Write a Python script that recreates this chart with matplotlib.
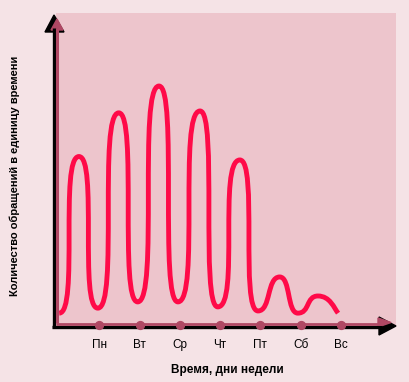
import matplotlib
matplotlib.use('Agg')
import matplotlib.pyplot as plt
from matplotlib.path import Path
from matplotlib.patches import PathPatch, Polygon

plt.rcParams['font.family'] = ['Liberation Sans', 'DejaVu Sans']

# дни недели (позиции делений 1..7)
days = ['Пн', 'Вт', 'Ср', 'Чт', 'Пт', 'Сб', 'Вс']
day_pos = [1, 2, 3, 4, 5, 6, 7]

# экстремумы кривой: время (в днях) и количество обращений
curve_x = [0.0, 0.49, 0.96, 1.48, 1.95, 2.48, 2.95, 3.50, 3.94, 4.49, 4.94, 5.48, 5.93, 6.43, 6.93]
curve_y = [3.8, 54.0, 5.4, 68.0, 7.4, 76.6, 7.4, 68.6, 5.8, 52.9, 4.5, 15.4, 3.8, 9.3, 3.8]

bg = '#F5E3E6'
panel = '#EDC5CC'
maroon = '#B04864'
red = '#FF0A48'

W, H = 409, 382
fig = plt.figure(figsize=(W / 100, H / 100), dpi=100, facecolor=bg)

# панель графика
ax = fig.add_axes([56 / W, (H - 325) / H, 340 / W, 312 / H])
ax.set_facecolor(panel)
ax.set_xlim(-0.08, 8.37)
ax.set_ylim(0, 100)
for s in ax.spines.values():
    s.set_visible(False)
ax.set_xticks([])
ax.set_yticks([])

# кривая: кубические сегменты между экстремумами
verts = [(curve_x[0], curve_y[0])]
codes = [Path.MOVETO]
n = len(curve_x)
for i in range(1, n):
    x0, y0 = curve_x[i - 1], curve_y[i - 1]
    x1, y1 = curve_x[i], curve_y[i]
    k = 1.0 if abs(y1 - y0) > 30 else 0.6
    c1 = (x0 + k * (x1 - x0), y0)
    c2 = (x1 - k * (x1 - x0), y1) if i < n - 1 else (x1 - 0.2 * (x1 - x0), y1 + 0.3 * (y0 - y1))
    verts += [c1, c2, (x1, y1)]
    codes += [Path.CURVE4] * 3
ax.add_patch(PathPatch(Path(verts, codes), facecolor='none', edgecolor=red,
                       lw=3.5, capstyle='butt', joinstyle='round', zorder=3))

# оверлей в пиксельных координатах для осей со стрелками
ov = fig.add_axes([0, 0, 1, 1], facecolor='none')
ov.set_xlim(0, W)
ov.set_ylim(H, 0)
ov.axis('off')

# вертикальная ось
ov.plot([53.5, 53.5], [328, 28], color='black', lw=2.4, solid_capstyle='butt')
ov.plot([56.5, 56.5], [323, 28], color=maroon, lw=2.2, solid_capstyle='butt')
ov.add_patch(Polygon([(45, 32), (64, 32), (54, 15)], closed=True, color='black'))
ov.add_patch(Polygon([(51, 30), (63, 30), (57, 19)], closed=True, color=maroon))

# горизонтальная ось
ov.plot([52, 382], [326.5, 326.5], color='black', lw=2.4, solid_capstyle='butt')
ov.plot([56, 382], [323.8, 323.8], color=maroon, lw=2.0, solid_capstyle='butt')
ov.add_patch(Polygon([(379, 317), (379, 335), (396, 326)], closed=True, color='black'))
ov.add_patch(Polygon([(378, 318), (378, 327), (391, 322.5)], closed=True, color=maroon))

# деления поверх осей
ov.scatter(day_pos, [0] * len(day_pos), s=32, color=maroon, zorder=5, clip_on=False,
           transform=ax.transData)
for p, d in zip(day_pos, days):
    ax.annotate(d, xy=(p, 0), xytext=(0, -20), textcoords='offset pixels',
                ha='center', va='center', fontsize=8.5, annotation_clip=False)

fig.text(227 / W, 1 - 370 / H, 'Время, дни недели', ha='center', va='center',
         fontsize=8.5, fontweight='bold')
fig.text(15 / W, 1 - 176 / H, 'Количество обращений в единицу времени', rotation=90,
         ha='center', va='center', fontsize=8, fontweight='bold')

fig.savefig('out.png', dpi=100, facecolor=bg)
